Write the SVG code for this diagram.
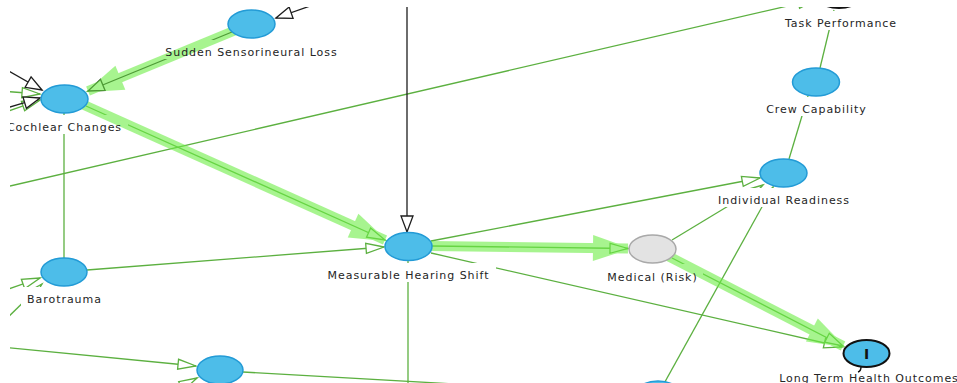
<svg xmlns="http://www.w3.org/2000/svg" width="957" height="383" viewBox="0 0 957 383">
  <defs>
    <clipPath id="view"><rect x="10" y="7" width="947" height="376"/></clipPath>
    <!-- hollow arrowheads, tip at the path end -->
    <marker id="arrG" markerUnits="userSpaceOnUse" orient="auto" overflow="visible" refX="0" refY="0">
      <path d="M0,0 L-18,-5 L-18,5 Z" fill="#fff" stroke="#5cb040" stroke-width="1.3" stroke-linejoin="miter"/>
    </marker>
    <marker id="arrB" markerUnits="userSpaceOnUse" orient="auto" overflow="visible" refX="0" refY="0">
      <path d="M0,0 L-16,-6 L-16,6 Z" fill="#fff" stroke="#1e1e1e" stroke-width="1.3"/>
    </marker>
    <!-- large filled head of a highlighted path -->
    <marker id="arrHi" markerUnits="userSpaceOnUse" orient="auto" overflow="visible" refX="0" refY="0">
      <path d="M3,0 L-35,-13 L-35,13 Z" fill="#6eee46"/>
    </marker>
    <style>
      .ln { fill: none; stroke: #5cb040; stroke-width: 1.3; }
      .lnB { fill: none; stroke: #1e1e1e; stroke-width: 1.3; }
      .hi { fill: none; stroke: #6eee46; stroke-width: 10; }
      .node ellipse { fill: #4dbde9; stroke: #239bd6; stroke-width: 1.5; }
      .node ellipse.risk { fill: #e3e3e3; stroke: #a9a9a9; }
      .node ellipse.util { stroke: #111; stroke-width: 2; }
      .bg { fill: #fff; }
      .lbl { font-family: "DejaVu Sans", "Verdana", sans-serif; font-size: 11px; fill: #252525; text-anchor: middle; letter-spacing: 0.95px; }
      .mark { font-family: "DejaVu Sans", sans-serif; font-size: 14px; font-weight: bold; fill: #111; text-anchor: middle; }
    </style>
  </defs>

  <rect width="957" height="383" fill="#fff"/>

  <g clip-path="url(#view)">
    <!-- connectors -->
    <g id="connectors">
      <path class="ln" d="M10,186 L816,-0.6" marker-end="url(#arrG)"/>
      <path class="ln" d="M64,113 L64,258"/>
      <path class="ln" d="M87,270 L384,247" marker-end="url(#arrG)"/>
      <path class="ln" d="M431,241 L760,178" marker-end="url(#arrG)"/>
      <path class="ln" d="M672,240 L763,185" marker-end="url(#arrG)"/>
      <path class="ln" d="M661,389 L773,187" marker-end="url(#arrG)"/>
      <path class="ln" d="M789,159 L808,96"/>
      <path class="ln" d="M820,68 L834,10"/>
      <path class="ln" d="M431,253 L842,347" marker-end="url(#arrG)"/>
      <path class="ln" d="M408,260 L408,390"/>
      <path class="ln" d="M0,347 L196,366" marker-end="url(#arrG)"/>
      <path class="ln" d="M243,372 L490,386"/>
      <path class="ln" d="M150,402 L197,378" marker-end="url(#arrG)"/>
      <path class="ln" d="M0,292 L40,278" marker-end="url(#arrG)"/>
      <path class="ln" d="M0,325 L42,284" marker-end="url(#arrG)"/>
      <path class="ln" d="M0,91 L40,94" marker-end="url(#arrG)"/>
      <path class="ln" d="M0,114 L40,100" marker-end="url(#arrG)"/>
      <path class="lnB" d="M330,-1 L276,18" marker-end="url(#arrB)"/>
      <path class="lnB" d="M407,0 L407,232" marker-end="url(#arrB)"/>
      <path class="lnB" d="M0,66 L42,90" marker-end="url(#arrB)"/>
      <path class="lnB" d="M0,110 L40,98" marker-end="url(#arrB)"/>
      <!-- links that carry the highlight -->
      <path class="lnB" d="M232,32 L88,91" marker-end="url(#arrB)"/>
      <path class="ln" d="M86,106 L385,240" marker-end="url(#arrG)"/>
      <path class="ln" d="M432,246 L628,248.5" marker-end="url(#arrG)"/>
      <path class="ln" d="M672,258 L843,346" marker-end="url(#arrG)"/>
    </g>

    <!-- label backgrounds -->
    <g id="label-backs">
      <rect class="bg" x="160" y="40" width="183" height="19"/>
      <rect class="bg" x="0" y="115" width="128" height="19"/>
      <rect class="bg" x="321" y="263" width="175" height="19"/>
      <rect class="bg" x="602" y="264" width="101" height="19"/>
      <rect class="bg" x="712" y="188" width="144" height="19"/>
      <rect class="bg" x="760" y="97" width="113" height="19"/>
      <rect class="bg" x="777" y="11" width="127" height="19"/>
      <rect class="bg" x="21" y="287" width="87" height="19"/>
      <rect class="bg" x="768" y="365" width="198" height="19"/>
    </g>

    <!-- highlighted path -->
    <g id="highlight" opacity="0.6">
      <path class="hi" d="M236,30 L88,91" marker-end="url(#arrHi)"/>
      <path class="hi" d="M84,105 L385,240" marker-end="url(#arrHi)"/>
      <path class="hi" d="M430,246 L628,248.5" marker-end="url(#arrHi)"/>
      <path class="hi" d="M668,256 L843,346" marker-end="url(#arrHi)"/>
    </g>

    <!-- nodes -->
    <g id="n-task" class="node"><ellipse class="util" cx="839" cy="-6" rx="23.5" ry="14"/></g>
    <g id="n-sudden" class="node"><ellipse cx="251.5" cy="24" rx="23.5" ry="14"/></g>
    <g id="n-cochlear" class="node"><ellipse cx="64.5" cy="99" rx="23.5" ry="14"/></g>
    <g id="n-hearing" class="node"><ellipse cx="408.5" cy="246.5" rx="23.5" ry="14"/></g>
    <g id="n-medical" class="node"><ellipse class="risk" cx="652.5" cy="249" rx="23.5" ry="14"/></g>
    <g id="n-readiness" class="node"><ellipse cx="783.5" cy="173" rx="23.5" ry="14"/></g>
    <g id="n-crew" class="node"><ellipse cx="816" cy="82" rx="23.5" ry="14"/></g>
    <g id="n-baro" class="node"><ellipse cx="64" cy="272" rx="23" ry="14"/></g>
    <g id="n-lower" class="node"><ellipse cx="220" cy="370" rx="23" ry="14"/></g>
    <g id="n-lower-right" class="node"><ellipse cx="658" cy="395" rx="23" ry="14"/></g>
    <g id="n-health" class="node">
      <ellipse class="util" cx="866.5" cy="353.5" rx="23" ry="13.5"/>
      <text class="mark" x="866.5" y="358.5">I</text>
      <path d="M861,367 Q861,371 858,372" fill="none" stroke="#111" stroke-width="1.4"/>
    </g>

    <!-- labels -->
    <g id="labels">
      <text class="lbl" x="251.5" y="56">Sudden Sensorineural Loss</text>
      <text class="lbl" x="64.5" y="131">Cochlear Changes</text>
      <text class="lbl" x="408.5" y="279">Measurable Hearing Shift</text>
      <text class="lbl" x="652.5" y="280.5">Medical (Risk)</text>
      <text class="lbl" x="784" y="204">Individual Readiness</text>
      <text class="lbl" x="816.5" y="113">Crew Capability</text>
      <text class="lbl" x="841" y="26.5">Task Performance</text>
      <text class="lbl" x="64.5" y="303">Barotrauma</text>
      <text class="lbl" x="869" y="381.5">Long Term Health Outcomes</text>
    </g>
  </g>
</svg>
